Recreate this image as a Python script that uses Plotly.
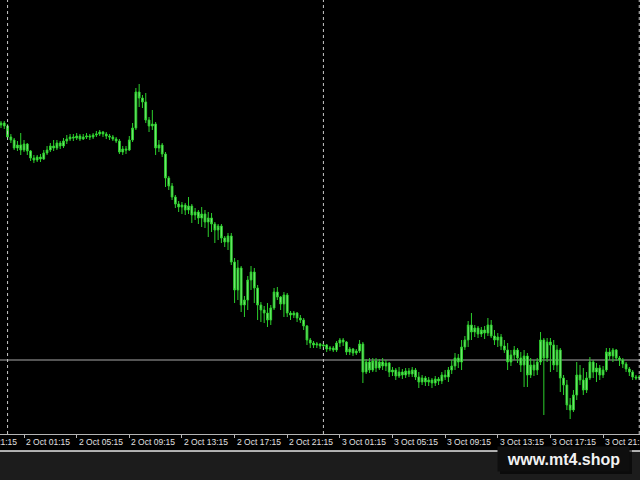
import pandas as pd
import plotly.graph_objects as go

# 15-minute bars, first bar at 1 Oct 23:30
bar_start = "2023-10-01 23:30"
bar_minutes = 15

open_ = [1875.0, 1875.4, 1874.8, 1872.6, 1872.0, 1870.4, 1871.0,
         1870.0, 1871.2, 1869.8, 1868.4, 1868.0, 1868.6, 1868.2, 1869.4, 1870.0, 1870.8,
         1870.4, 1871.4, 1870.8, 1871.8, 1872.2, 1872.6, 1872.4, 1872.8, 1872.2, 1872.6,
         1872.8, 1872.6, 1873.0, 1873.2, 1873.6, 1873.2, 1872.8, 1872.6, 1872.2, 1871.8,
         1869.6, 1870.2, 1870.0, 1872.0, 1874.4, 1881.6, 1880.4, 1879.6, 1876.0, 1874.8,
         1875.2, 1870.4, 1871.0, 1869.2, 1864.4, 1862.8, 1860.6, 1859.2, 1858.6, 1859.0,
         1858.0, 1858.8, 1857.0, 1857.6, 1856.4, 1857.2, 1855.6, 1856.4, 1855.2, 1854.0,
         1854.8, 1852.4, 1851.6, 1852.8, 1847.6, 1842.0, 1846.4, 1839.0, 1840.0, 1844.0,
         1845.6, 1842.4, 1839.0, 1838.0, 1837.4, 1836.0, 1838.4, 1841.6, 1840.6, 1839.2,
         1841.0, 1837.4, 1837.0, 1837.4, 1836.4, 1836.0, 1834.8, 1832.0, 1831.4, 1831.0,
         1831.2, 1830.8, 1831.0, 1830.2, 1830.4, 1830.0, 1831.4, 1832.0, 1831.6, 1829.6,
         1830.2, 1829.4, 1829.8, 1831.2, 1825.6, 1827.6, 1826.0, 1827.8, 1826.4, 1827.6,
         1826.8, 1827.4, 1825.6, 1826.0, 1824.8, 1825.6, 1825.0, 1825.8, 1825.2, 1826.0,
         1824.6, 1823.6, 1824.4, 1823.6, 1824.0, 1823.4, 1824.2, 1823.8, 1825.0, 1824.6,
         1826.0, 1826.8, 1828.4, 1827.6, 1830.6, 1832.0, 1835.0, 1833.6, 1834.4, 1833.2,
         1834.0, 1833.4, 1835.0, 1832.8, 1832.0, 1832.6, 1830.8, 1830.0, 1827.6, 1829.0,
         1830.0, 1828.4, 1827.0, 1828.8, 1825.0, 1827.0, 1826.0, 1827.6, 1832.0, 1828.4,
         1831.6, 1831.0, 1827.0, 1830.0, 1824.4, 1823.0, 1819.0, 1818.0, 1821.0, 1825.0,
         1824.0, 1822.0, 1824.4, 1827.6, 1825.6, 1826.4, 1825.0, 1826.0, 1829.6, 1828.8,
         1830.0, 1828.4, 1828.0, 1827.2, 1826.2, 1825.6, 1824.6, 1824.4]

high = [1875.8, 1875.8, 1875.2, 1873.2, 1872.4, 1871.8, 1873.4,
        1872.0, 1871.4, 1870.0, 1869.0, 1869.0, 1869.2, 1870.0, 1870.8, 1871.4, 1872.0,
        1872.0, 1871.8, 1872.4, 1873.0, 1873.2, 1873.2, 1873.4, 1873.2, 1873.2, 1873.4,
        1873.2, 1873.4, 1873.8, 1874.0, 1873.8, 1873.6, 1873.2, 1873.0, 1872.6, 1872.2,
        1870.8, 1870.8, 1872.8, 1875.4, 1882.4, 1883.2, 1881.0, 1881.4, 1876.6, 1878.0,
        1875.6, 1872.0, 1871.4, 1869.6, 1864.8, 1863.4, 1861.0, 1859.8, 1859.6, 1859.4,
        1860.6, 1859.2, 1858.4, 1858.0, 1858.6, 1858.0, 1857.6, 1857.4, 1855.6, 1855.2,
        1855.2, 1852.8, 1853.4, 1853.4, 1848.4, 1848.0, 1846.8, 1840.8, 1844.8, 1846.8,
        1846.4, 1843.0, 1839.6, 1838.8, 1839.4, 1839.0, 1842.4, 1842.6, 1840.8, 1841.6,
        1841.4, 1837.8, 1837.8, 1837.6, 1837.0, 1836.4, 1835.0, 1832.4, 1831.8, 1831.6,
        1831.4, 1831.4, 1831.2, 1830.8, 1830.8, 1831.8, 1832.4, 1832.4, 1831.8, 1830.6,
        1830.4, 1830.2, 1832.0, 1831.6, 1828.2, 1828.4, 1828.4, 1828.4, 1828.2, 1828.4,
        1828.0, 1827.6, 1826.6, 1826.4, 1826.6, 1826.2, 1826.4, 1826.4, 1826.6, 1826.4,
        1825.6, 1825.0, 1824.8, 1824.6, 1824.4, 1824.8, 1824.6, 1825.6, 1826.0, 1826.6,
        1828.0, 1829.4, 1829.2, 1832.0, 1832.8, 1835.8, 1837.4, 1835.0, 1834.8, 1834.6,
        1834.8, 1836.4, 1836.0, 1834.0, 1833.4, 1833.2, 1832.0, 1831.4, 1830.0, 1830.8,
        1830.4, 1829.6, 1830.0, 1829.4, 1828.4, 1828.0, 1828.4, 1833.6, 1832.4, 1832.4,
        1832.4, 1832.0, 1831.0, 1830.4, 1825.0, 1824.0, 1820.4, 1822.0, 1827.6, 1827.0,
        1826.4, 1825.6, 1828.6, 1828.0, 1827.4, 1827.0, 1826.8, 1830.4, 1830.4, 1830.4,
        1830.2, 1828.8, 1828.4, 1827.6, 1826.6, 1826.0, 1825.0, 1825.0]

low = [1874.4, 1874.2, 1872.0, 1871.4, 1870.0, 1869.8, 1869.0,
       1869.6, 1869.0, 1867.8, 1867.4, 1867.6, 1867.6, 1868.0, 1869.0, 1869.6, 1869.8,
       1870.0, 1870.2, 1870.4, 1871.2, 1871.8, 1871.8, 1872.0, 1871.8, 1872.0, 1872.2,
       1872.0, 1872.2, 1872.6, 1872.8, 1872.6, 1872.2, 1872.0, 1871.8, 1871.4, 1869.2,
       1869.0, 1869.2, 1869.8, 1871.6, 1874.0, 1878.6, 1878.4, 1875.4, 1873.6, 1874.0,
       1869.0, 1869.6, 1868.6, 1862.6, 1862.0, 1860.0, 1858.4, 1857.6, 1857.2, 1857.0,
       1857.2, 1855.4, 1856.0, 1855.2, 1854.6, 1854.4, 1852.6, 1853.6, 1851.4, 1852.0,
       1851.4, 1850.6, 1850.0, 1847.0, 1839.4, 1840.0, 1837.6, 1836.6, 1838.0, 1842.0,
       1839.4, 1836.0, 1835.6, 1835.4, 1834.6, 1835.0, 1838.0, 1840.0, 1838.0, 1836.6,
       1836.6, 1836.0, 1836.4, 1835.6, 1835.4, 1834.0, 1831.0, 1830.4, 1830.4, 1830.4,
       1830.2, 1830.0, 1829.6, 1829.8, 1829.6, 1829.6, 1830.6, 1830.8, 1829.0, 1829.0,
       1828.8, 1829.0, 1829.4, 1823.4, 1825.2, 1825.4, 1825.6, 1825.6, 1826.0, 1826.0,
       1825.8, 1824.6, 1824.8, 1824.0, 1824.4, 1824.2, 1824.4, 1824.6, 1824.6, 1824.0,
       1822.4, 1823.0, 1822.8, 1822.8, 1822.4, 1822.8, 1823.0, 1823.2, 1824.0, 1823.6,
       1825.2, 1826.0, 1826.4, 1826.0, 1830.0, 1830.6, 1832.0, 1832.6, 1832.4, 1832.6,
       1832.2, 1832.8, 1832.4, 1831.0, 1830.6, 1830.0, 1829.4, 1826.0, 1826.8, 1828.0,
       1827.4, 1825.6, 1822.6, 1822.6, 1824.4, 1824.8, 1825.0, 1827.0, 1817.0, 1827.6,
       1825.6, 1826.0, 1825.6, 1821.6, 1821.0, 1818.0, 1816.2, 1817.6, 1820.0, 1823.0,
       1821.0, 1821.4, 1824.0, 1824.4, 1823.6, 1824.0, 1824.4, 1825.6, 1828.0, 1827.6,
       1827.8, 1826.8, 1826.4, 1825.6, 1824.8, 1824.0, 1824.0, 1824.0]

close = [1875.4, 1874.8, 1872.6, 1872.0, 1870.4, 1871.0, 1870.0,
         1871.2, 1869.8, 1868.4, 1868.0, 1868.6, 1868.2, 1869.4, 1870.0, 1870.8, 1870.4,
         1871.4, 1870.8, 1871.8, 1872.2, 1872.6, 1872.4, 1872.8, 1872.2, 1872.6, 1872.8,
         1872.6, 1873.0, 1873.2, 1873.6, 1873.2, 1872.8, 1872.6, 1872.2, 1871.8, 1869.6,
         1870.2, 1870.0, 1872.0, 1874.4, 1881.6, 1880.4, 1879.6, 1876.0, 1874.8, 1875.2,
         1870.4, 1871.0, 1869.2, 1864.4, 1862.8, 1860.6, 1859.2, 1858.6, 1859.0, 1858.0,
         1858.8, 1857.0, 1857.6, 1856.4, 1857.2, 1855.6, 1856.4, 1855.2, 1854.0, 1854.8,
         1852.4, 1851.6, 1852.8, 1847.6, 1842.0, 1846.4, 1839.0, 1840.0, 1844.0, 1845.6,
         1842.4, 1839.0, 1838.0, 1837.4, 1836.0, 1838.4, 1841.6, 1840.6, 1839.2, 1841.0,
         1837.4, 1837.0, 1837.4, 1836.4, 1836.0, 1834.8, 1832.0, 1831.4, 1831.0, 1831.2,
         1830.8, 1831.0, 1830.2, 1830.4, 1830.0, 1831.4, 1832.0, 1831.6, 1829.6, 1830.2,
         1829.4, 1829.8, 1831.2, 1825.6, 1827.6, 1826.0, 1827.8, 1826.4, 1827.6, 1826.8,
         1827.4, 1825.6, 1826.0, 1824.8, 1825.6, 1825.0, 1825.8, 1825.2, 1826.0, 1824.6,
         1823.6, 1824.4, 1823.6, 1824.0, 1823.4, 1824.2, 1823.8, 1825.0, 1824.6, 1826.0,
         1826.8, 1828.4, 1827.6, 1830.6, 1832.0, 1835.0, 1833.6, 1834.4, 1833.2, 1834.0,
         1833.4, 1835.0, 1832.8, 1832.0, 1832.6, 1830.8, 1830.0, 1827.6, 1829.0, 1830.0,
         1828.4, 1827.0, 1828.8, 1825.0, 1827.0, 1826.0, 1827.6, 1832.0, 1828.4, 1831.6,
         1831.0, 1827.0, 1830.0, 1824.4, 1823.0, 1819.0, 1818.0, 1821.0, 1825.0, 1824.0,
         1822.0, 1824.4, 1827.6, 1825.6, 1826.4, 1825.0, 1826.0, 1829.6, 1828.8, 1830.0,
         1828.4, 1828.0, 1827.2, 1826.2, 1825.6, 1824.6, 1824.4, 1824.6]

tick_times = ["2023-10-01 21:15", "2023-10-02 01:15", "2023-10-02 05:15", "2023-10-02 09:15",
              "2023-10-02 13:15", "2023-10-02 17:15", "2023-10-02 21:15", "2023-10-03 01:15",
              "2023-10-03 05:15", "2023-10-03 09:15", "2023-10-03 13:15", "2023-10-03 17:15",
              "2023-10-03 21:15"]
tick_labels = ["1 Oct 21:15", "2 Oct 01:15", "2 Oct 05:15", "2 Oct 09:15", "2 Oct 13:15",
               "2 Oct 17:15", "2 Oct 21:15", "3 Oct 01:15", "3 Oct 05:15", "3 Oct 09:15",
               "3 Oct 13:15", "3 Oct 17:15", "3 Oct 21:15"]
day_separators = ["2023-10-02 00:00", "2023-10-03 00:00", "2023-10-04 00:00"]
level_price = 1828.0
price_range = [1813.2, 1900.0]

n = len(close)
assert len(open_) == len(high) == len(low) == n
times = pd.date_range(bar_start, periods=n, freq=f"{bar_minutes}min")

W, H = 640, 480
plot_bottom = 46  # px of margin below the plot
plot_h = H - plot_bottom

t_ref = pd.Timestamp("2023-10-02 01:15")
x0 = t_ref + pd.Timedelta(minutes=bar_minutes * -7.3)
x1 = t_ref + pd.Timedelta(minutes=bar_minutes * 187.23)

GREEN_LINE = "#2ccf2c"
GREEN_FILL = "#86ee86"

fig = go.Figure()
fig.add_trace(go.Candlestick(
    x=times, open=open_, high=high, low=low, close=close,
    increasing=dict(line=dict(color=GREEN_LINE, width=1), fillcolor=GREEN_FILL),
    decreasing=dict(line=dict(color=GREEN_LINE, width=1), fillcolor=GREEN_FILL),
    whiskerwidth=0, showlegend=False, hoverinfo="skip",
))

shapes = []
for d in day_separators:
    shapes.append(dict(type="line", xref="x", yref="paper", x0=d, x1=d, y0=0, y1=1,
                       line=dict(color="#c8c8c8", width=1, dash="dot"), layer="above"))
shapes.append(dict(type="line", xref="paper", yref="y", x0=0, x1=1, y0=level_price, y1=level_price,
                   line=dict(color="#a8a8a8", width=1), layer="below"))
# bottom band
shapes.append(dict(type="rect", xref="paper", yref="paper", x0=0, x1=1,
                   y0=-plot_bottom / plot_h, y1=-17 / plot_h,
                   fillcolor="#1c1c1c", line=dict(width=0), layer="above"))
shapes.append(dict(type="line", xref="paper", yref="paper", x0=0, x1=1,
                   y0=-17 / plot_h, y1=-17 / plot_h,
                   line=dict(color="#e6e6e6", width=1.5), layer="above"))
# watermark shadow
shapes.append(dict(type="rect", xref="paper", yref="paper", x0=500 / W, x1=632 / W,
                   y0=-(474 - plot_h) / plot_h, y1=-(450 - plot_h) / plot_h,
                   fillcolor="rgba(0,0,0,0.6)", line=dict(width=0), layer="above"))

annotations = []
span = (x1 - x0).total_seconds()
for t, lab in zip(tick_times, tick_labels):
    px = (pd.Timestamp(t) - x0).total_seconds() / span
    annotations.append(dict(xref="paper", yref="paper", x=px, y=0, xanchor="left", yanchor="top",
                            text=lab, showarrow=False, xshift=0, yshift=-1,
                            font=dict(family="Liberation Sans, Arial", size=8.5, color="#e0e0e0")))
annotations.append(dict(xref="paper", yref="paper", x=563 / W, y=-(459 - plot_h) / plot_h,
                        xanchor="center", yanchor="middle",
                        text="<b>www.mt4.shop</b>", showarrow=False,
                        bgcolor="#0e0e0e", borderpad=2, width=127, height=20,
                        font=dict(family="Liberation Sans, Arial", size=16, color="#f2f2f2")))

fig.update_layout(
    width=W, height=H,
    margin=dict(l=0, r=0, t=0, b=plot_bottom, pad=0),
    paper_bgcolor="#000000", plot_bgcolor="#000000",
    shapes=shapes, annotations=annotations,
    boxgap=0.25,
    showlegend=False,
    xaxis=dict(range=[x0, x1], rangeslider=dict(visible=False), showgrid=False, zeroline=False,
               tickvals=tick_times, showticklabels=False, ticks="outside", ticklen=3,
               tickcolor="#b4b4b4", showline=True, linecolor="#b4b4b4", linewidth=1,
               fixedrange=True),
    yaxis=dict(range=price_range, visible=False, showgrid=False, zeroline=False, fixedrange=True),
)

fig.write_html("out.html", config={"displayModeBar": False},
               post_script="document.body.style.margin='0';document.body.style.overflow='hidden';document.body.style.background='#000';")
